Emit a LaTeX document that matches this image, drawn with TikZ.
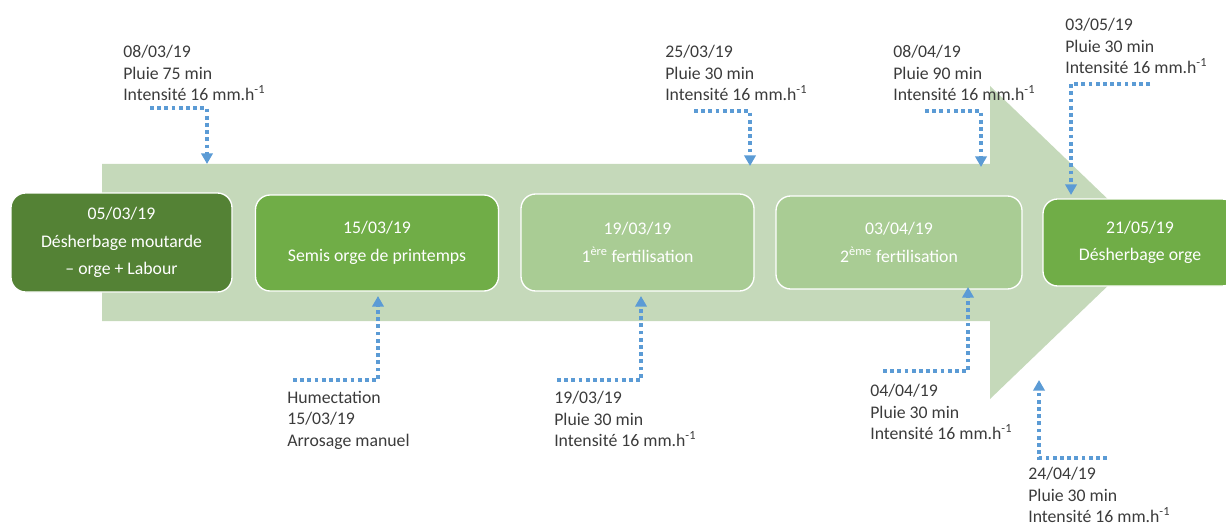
\documentclass[tikz,border=0pt]{standalone}
\usepackage{fontspec}
\setmainfont{Carlito}
\usetikzlibrary{arrows.meta}

\definecolor{shaft}{HTML}{C5D9BA}
\definecolor{dkgreen}{HTML}{548235}
\definecolor{midgreen}{HTML}{70AD47}
\definecolor{ltgreen}{HTML}{A9CC94}
\definecolor{rain}{HTML}{5B9BD5}
\definecolor{ink}{HTML}{3B3B3B}

\tikzset{
  stage/.style={draw=white,line width=1pt,rounded corners=11pt,text=white,
    align=center,inner sep=0pt,font=\fontsize{13.3}{20.5}\selectfont},
  note/.style={anchor=north west,inner sep=0pt,align=left,text=ink,
    font=\fontsize{13.3}{16.1}\selectfont},
  rainline/.style={rain,line width=3pt,dash pattern=on 2.8pt off 2.6pt}
}

\begin{document}
\begin{tikzpicture}[>={Triangle[width=8.5pt,length=8pt]},x=0.75pt,y=0.75pt]
  \useasboundingbox (0,0) rectangle (1226,522);
  \clip (0,0) rectangle (1226,522);

  % the big arrow
  \fill[shaft] (102,358) -- (990,358) -- (990,436) -- (1153,279.5)
    -- (990,123) -- (990,201) -- (102,201) -- cycle;

  % stages
  \node[stage,fill=dkgreen,minimum width=165.75pt,minimum height=74.25pt] (b1) at (121.5,279.5)
    {05/03/19\\Désherbage moutarde\\– orge + Labour};
  \node[stage,fill=midgreen,minimum width=182.25pt,minimum height=72pt] (b2) at (377,279)
    {15/03/19\\Semis orge de printemps};
  \node[stage,fill=ltgreen,minimum width=174.75pt,minimum height=72.75pt] (b3) at (637.5,279.5)
    {19/03/19\\1\textsuperscript{ère} fertilisation};
  \node[stage,fill=ltgreen,minimum width=184.5pt,minimum height=69.75pt] (b4) at (899,279.5)
    {03/04/19\\2\textsuperscript{ème} fertilisation};
  \node[stage,fill=midgreen,minimum width=145.5pt,minimum height=65.25pt] (b5) at (1140,279.5)
    {21/05/19\\Désherbage orge};

  % rain events above
  \node[note] (t1) at (123,477) {08/03/19\\Pluie 75 min\\Intensité 16 mm.h\textsuperscript{-1}};
  \node[note] (t2) at (665,477) {25/03/19\\Pluie 30 min\\Intensité 16 mm.h\textsuperscript{-1}};
  \node[note] (t3) at (893,477) {08/04/19\\Pluie 90 min\\Intensité 16 mm.h\textsuperscript{-1}};
  \node[note] (t4) at (1065,504) {03/05/19\\Pluie 30 min\\Intensité 16 mm.h\textsuperscript{-1}};

  % rain events below
  \node[note] (u1) at (287,131) {Humectation\\15/03/19\\Arrosage manuel};
  \node[note] (u2) at (554,131) {19/03/19\\Pluie 30 min\\Intensité 16 mm.h\textsuperscript{-1}};
  \node[note] (u3) at (870,138) {04/04/19\\Pluie 30 min\\Intensité 16 mm.h\textsuperscript{-1}};
  \node[note] (u4) at (1028,55) {24/04/19\\Pluie 30 min\\Intensité 16 mm.h\textsuperscript{-1}};

  \coordinate (s1) at (150,414);  \coordinate (e1) at (207,358);
  \coordinate (s2) at (694,411);  \coordinate (e2) at (750,356);
  \coordinate (s3) at (925,411);  \coordinate (e3) at (981,355);
  \coordinate (s4) at (1150,438); \coordinate (e4) at (1071,327);
  \coordinate (s5) at (293,142);  \coordinate (e5) at (378,226);
  \coordinate (s6) at (557,142);  \coordinate (e6) at (641,226);
  \coordinate (s7) at (883,151);  \coordinate (e7) at (968,235);
  \coordinate (s8) at (1107,64);  \coordinate (e8) at (1039,142);

  \foreach \i in {1,...,8}
    \draw[rainline,->] (s\i) -| (e\i);
\end{tikzpicture}
\end{document}
